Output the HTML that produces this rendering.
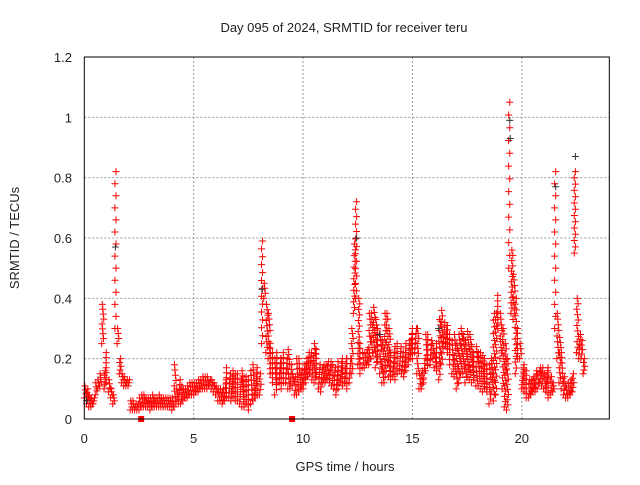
<!DOCTYPE html>
<html><head><meta charset="utf-8"><style>
body{margin:0;background:#fff}
svg text{font-family:"Liberation Sans",sans-serif;font-size:13px;fill:#222}
</style></head><body>
<svg id="chart" width="640" height="480" xmlns="http://www.w3.org/2000/svg">
<rect width="640" height="480" fill="#fff"/>
<text x="344" y="32" text-anchor="middle">Day 095 of 2024, SRMTID for receiver teru</text>
<text x="345" y="471" text-anchor="middle">GPS time / hours</text>
<text x="19" y="238" text-anchor="middle" transform="rotate(-90 19 238)">SRMTID / TECUs</text>
<g id="grid"></g>
<g id="ticks"></g>
<g id="red"></g>
<g id="black"></g>
<rect x="84.3" y="57" width="525" height="362" fill="none" stroke="#000" stroke-width="1"/>
</svg>
<script>
const xTicks=[0,5,10,15,20];
const yTicks=[0,0.2,0.4,0.6,0.8,1,1.2];
const yTickLabels=["0","0.2","0.4","0.6","0.8","1","1.2"];
const lowVals=[.07,.05,.04,.04,.05,.08,.10,.11,.25,.10,
.12,.09,.07,.05,.30,.25,.15,.12,.11,.11,
.11,.03,.03,.03,.03,.03,.04,.04,.04,.04,
.03,.04,.04,.04,.04,.04,.04,.04,.04,.04,
.03,.04,.06,.05,.05,.06,.07,.07,.08,.08,
.08,.09,.09,.10,.10,.10,.10,.11,.10,.09,
.08,.06,.06,.05,.06,.07,.07,.06,.07,.06,
.06,.05,.04,.04,.05,.03,.05,.06,.07,.08,
.08,.25,.40,.22,.20,.15,.12,.08,.12,.12,
.10,.12,.12,.10,.10,.11,.08,.08,.09,.10,
.10,.12,.14,.15,.13,.12,.14,.10,.09,.12,
.12,.13,.12,.11,.10,.08,.10,.12,.11,.12,
.10,.12,.15,.35,.40,.18,.15,.17,.17,.18,
.18,.20,.22,.17,.19,.15,.12,.12,.16,.14,
.13,.14,.13,.15,.16,.15,.14,.16,.18,.20,
.20,.22,.15,.10,.10,.12,.16,.18,.18,.20,
.17,.16,.13,.18,.24,.24,.22,.18,.15,.14,
.10,.12,.15,.15,.12,.14,.13,.12,.13,.11,
.11,.10,.09,.10,.09,.05,.09,.06,.08,.30,
.20,.10,.04,.03,.50,.35,.33,.15,.20,.20,
.10,.09,.07,.07,.08,.09,.09,.10,.12,.11,
.10,.09,.07,.08,.09,.30,.20,.12,.10,.08,
.07,.07,.08,.09,.55,.22,.20,.20,.15];
const highVals=[.11,.10,.08,.07,.07,.12,.13,.15,.38,.16,
.22,.13,.10,.08,.82,.30,.20,.15,.14,.13,
.13,.06,.06,.05,.05,.07,.08,.08,.07,.07,
.07,.08,.07,.07,.08,.07,.07,.07,.07,.07,
.07,.18,.10,.13,.11,.10,.10,.11,.12,.12,
.12,.12,.13,.13,.14,.14,.14,.13,.13,.12,
.11,.10,.10,.10,.13,.17,.15,.14,.16,.15,
.15,.13,.16,.14,.14,.13,.16,.18,.15,.17,
.15,.59,.45,.38,.35,.25,.22,.20,.22,.20,
.20,.22,.20,.23,.18,.15,.14,.20,.20,.16,
.18,.20,.22,.22,.21,.25,.23,.18,.17,.18,
.18,.19,.19,.18,.17,.16,.19,.19,.20,.20,
.20,.20,.30,.58,.72,.40,.25,.22,.22,.23,
.35,.35,.37,.33,.30,.28,.26,.35,.35,.30,
.22,.22,.24,.25,.24,.22,.22,.25,.26,.28,
.30,.30,.30,.15,.16,.20,.28,.28,.26,.25,
.22,.25,.33,.36,.32,.31,.31,.28,.26,.28,
.25,.28,.30,.28,.26,.29,.28,.24,.22,.24,
.22,.22,.21,.20,.18,.18,.20,.35,.35,.41,
.35,.30,.25,.20,1.05,.56,.48,.40,.30,.25,
.17,.18,.16,.13,.13,.14,.16,.15,.17,.17,
.15,.16,.17,.14,.12,.82,.35,.27,.22,.14,
.11,.12,.13,.15,.82,.40,.28,.26,.20];
const blackTimes=[1.42,8.12,12.45,19.45,19.47,21.55,22.45,0.1,13.5,16.2];
const blackVals=[.57,.43,.60,.99,.93,.77,.87,.06,.28,.30];
const squareTimes=[2.6,9.5];
const squareVals=[0,0];

const X=t=>84.3+t*(525/24);
const Y=v=>419-v*(362/1.2);
const NS="http://www.w3.org/2000/svg";
const grid=document.getElementById('grid'),ticks=document.getElementById('ticks');
const red=document.getElementById('red'),black=document.getElementById('black');
function mk(tag,attrs,parent){const e=document.createElementNS(NS,tag);for(const k in attrs)e.setAttribute(k,attrs[k]);parent.appendChild(e);return e;}
xTicks.forEach(t=>{
  if(t>0){const g=mk('line',{x1:X(t),x2:X(t),y1:57,y2:419,stroke:'#999','stroke-dasharray':'2,2'},grid);
  
  }
  const l=mk('text',{x:X(t),y:443,'text-anchor':'middle'},ticks);l.textContent=t;
  
  
});
yTicks.forEach((v,i)=>{
  if(v>0&&v<1.2){const g=mk('line',{x1:84.3,x2:609.3,y1:Y(v),y2:Y(v),stroke:'#999','stroke-dasharray':'2,2'},grid);
  
  }
  const l=mk('text',{x:72,y:Y(v)+5,'text-anchor':'end'},ticks);l.textContent=yTickLabels[i];
  
  
});
function plus(x,y,col,parent){
  const p=mk('path',{d:`M${x-3.5},${y}h7M${x},${y-3.5}v7`,stroke:col,'stroke-width':1,fill:'none'},parent);
  
  
}
lowVals.forEach((lo,i)=>{
  const hi=highVals[i],t=i*0.1;
  let n=Math.min(14,Math.round((hi-lo)/0.02)+2);
  for(let k=0;k<n;k++){
    const f=n>1?k/(n-1):0;
    const tt=t+((k*7)%n)/n*0.1;
    plus(X(tt),Y(lo+(hi-lo)*f),'#ff0000',red);
  }
});
blackTimes.forEach((t,i)=>plus(X(t),Y(blackVals[i]),'#333',black));
squareTimes.forEach((t,i)=>{
  const s=mk('rect',{x:X(t)-3,y:Y(squareVals[i])-3,width:6,height:6,fill:'#ff0000'},red);
  
  
});
</script>
</body></html>
